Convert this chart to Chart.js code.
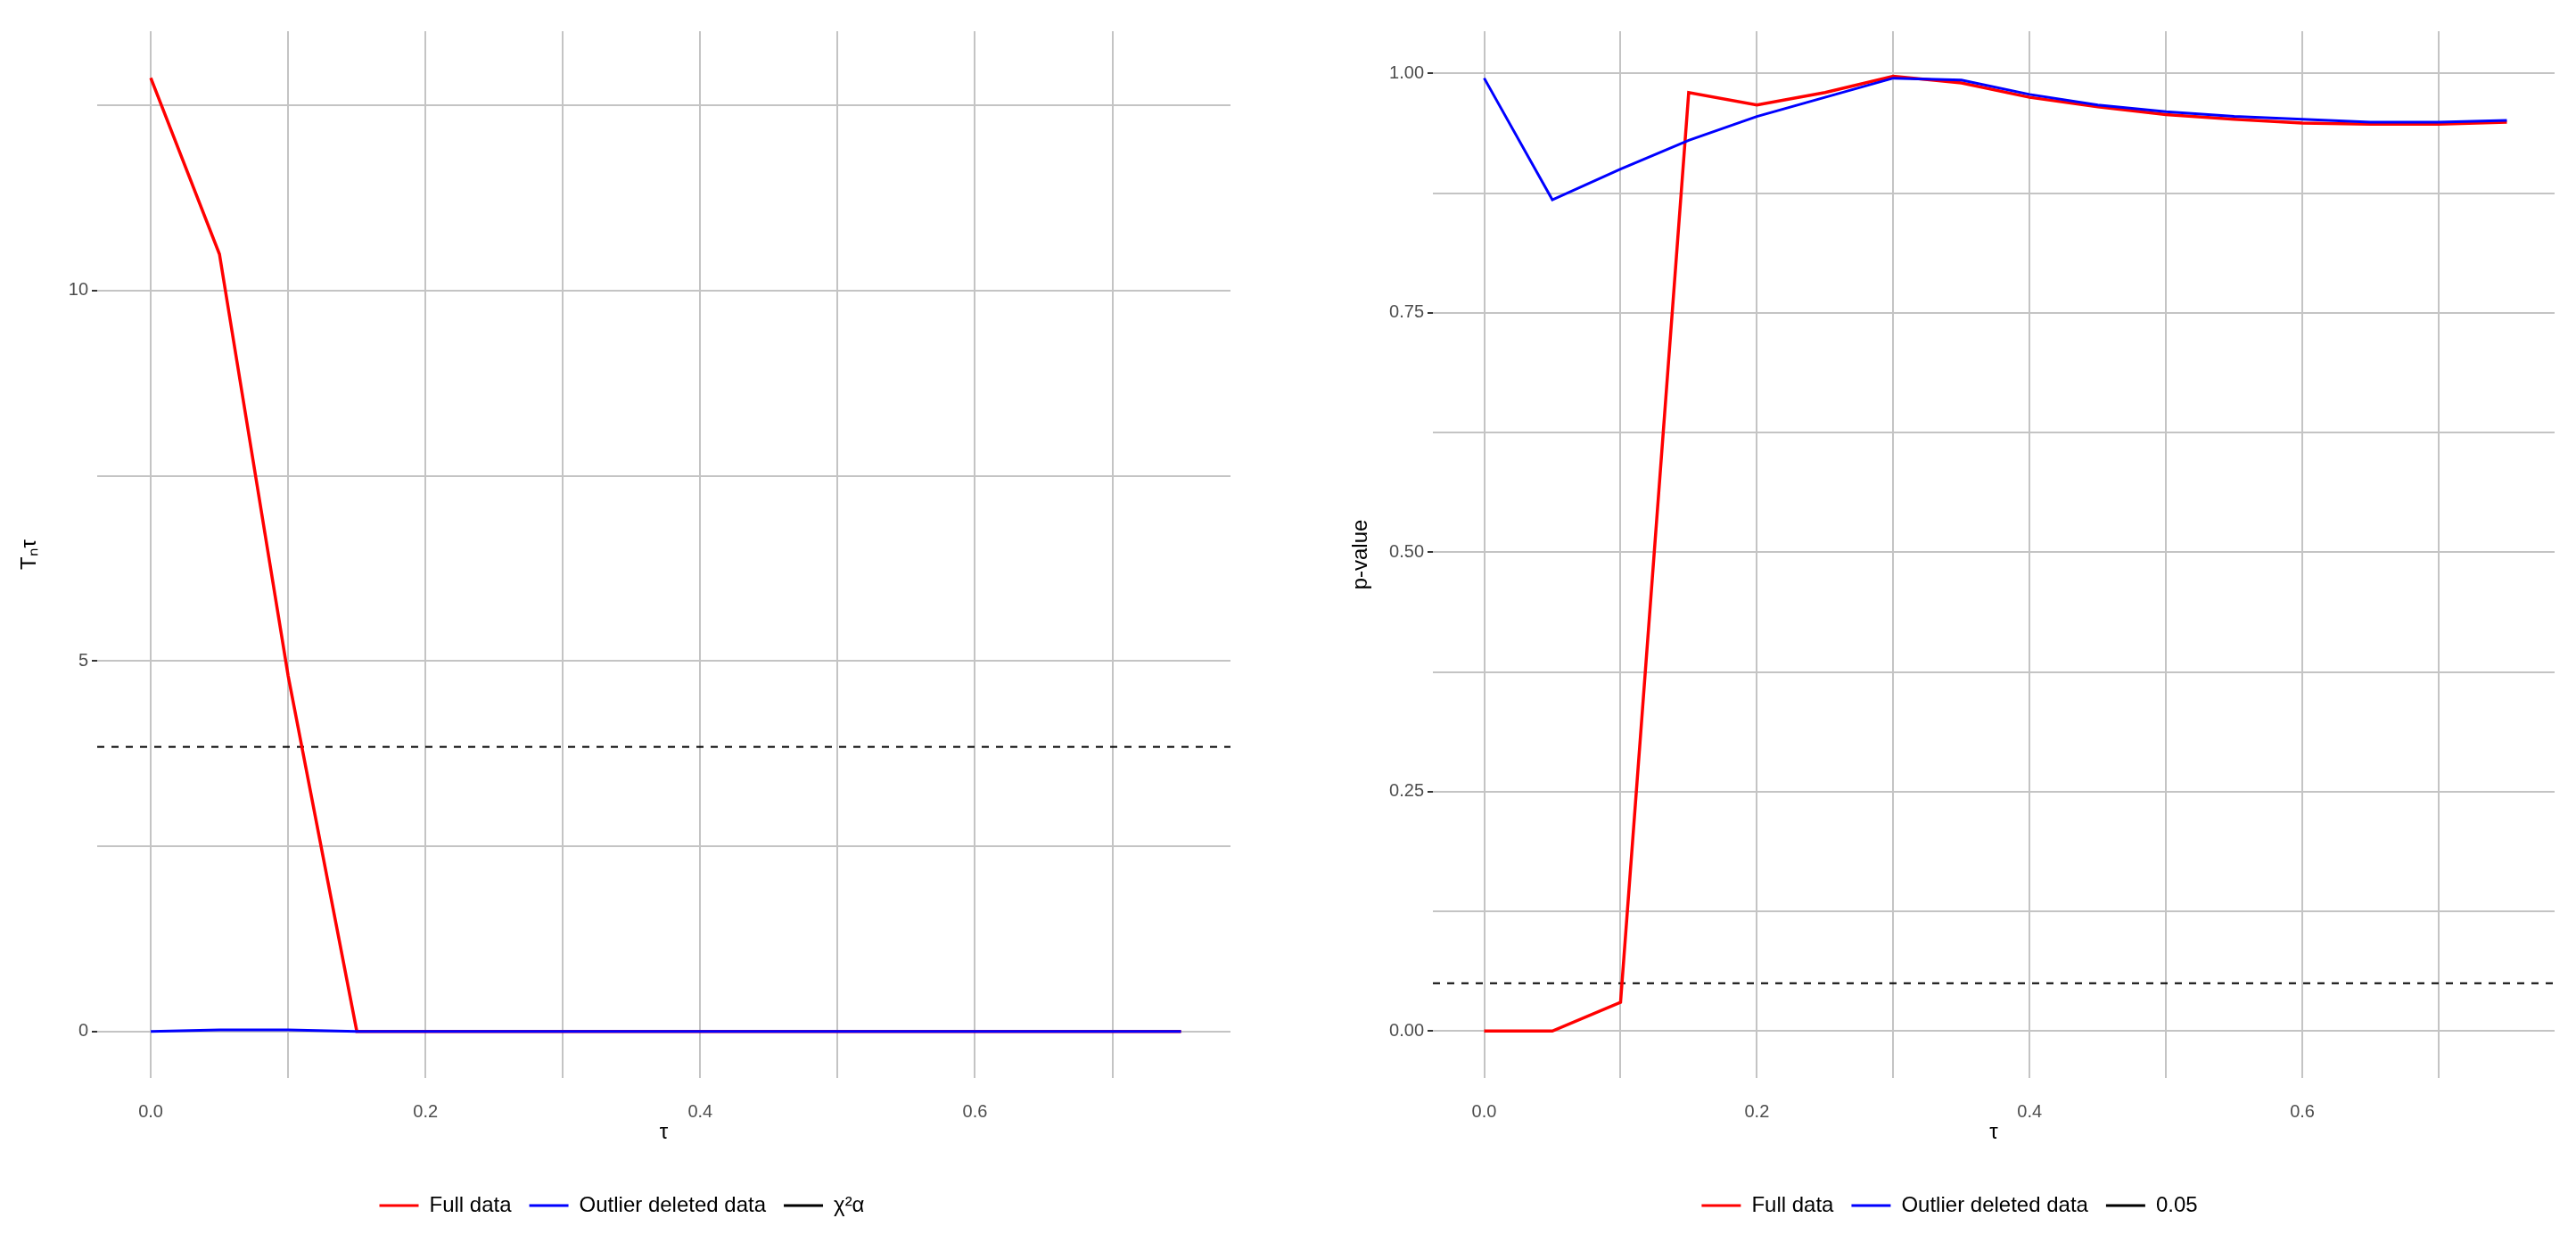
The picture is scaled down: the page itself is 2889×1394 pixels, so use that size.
<!DOCTYPE html>
<html>
<head>
<meta charset="utf-8">
<script src="https://cdn.jsdelivr.net/npm/chart.js@4/dist/chart.umd.min.js"></script>
<style>
  html, body { margin: 0; background: #fff; }
  .panel { position: absolute; top: 0; width: 1445px; height: 1394px; }
</style>
</head>
<body>
<div class="panel" style="left:0"><canvas id="left"></canvas></div>
<div class="panel" style="left:1445px"><canvas id="right"></canvas></div>
<script>
// data
const tau = [0, 0.05, 0.1, 0.15, 0.2, 0.25, 0.3, 0.35, 0.4, 0.45, 0.5, 0.55, 0.6, 0.65, 0.7, 0.75];
const statFull = [12.87, 10.49, 4.8, 0, 0, 0, 0, 0, 0, 0, 0, 0, 0, 0, 0, 0];
const statDeleted = [0, 0.02, 0.02, 0, 0, 0, 0, 0, 0, 0, 0, 0, 0, 0, 0, 0];
const chiCut = 3.84;
const pFull = [0, 0, 0.03, 0.98, 0.967, 0.98, 0.997, 0.99, 0.975, 0.965, 0.957, 0.952, 0.948, 0.947, 0.947, 0.949];
const pDeleted = [0.995, 0.868, 0.9, 0.93, 0.955, 0.975, 0.995, 0.993, 0.978, 0.967, 0.96, 0.955, 0.952, 0.949, 0.949, 0.951];
const pCut = 0.05;

const grid = '#c4c4c4';
const tickCol = '#4d4d4d';

function pts(ys) {
  return ys.map((y, i) => ({ x: tau[i], y: y }));
}

function makeChart(id, opts) {
  const ctx = document.getElementById(id);
  new Chart(ctx, {
    type: 'line',
    data: {
      datasets: [
        { label: 'Full data', data: pts(opts.full), borderColor: '#ff0000', borderWidth: 3.5, pointRadius: 0, tension: 0, order: 2 },
        { label: 'Outlier deleted data', data: pts(opts.deleted), borderColor: '#0000ff', borderWidth: 3, pointRadius: 0, tension: 0, order: 1 },
        { label: opts.cutLabel, data: [{ x: opts.xmin, y: opts.cut }, { x: opts.xmax, y: opts.cut }],
          borderColor: '#000', borderWidth: 2, borderDash: [8, 8], pointRadius: 0, order: 3 }
      ]
    },
    options: {
      responsive: true,
      maintainAspectRatio: false,
      animation: false,
      layout: { padding: { top: 35, right: opts.padRight, bottom: 20, left: opts.padLeft } },
      plugins: {
        tooltip: { enabled: false },
        legend: {
          position: 'bottom',
          labels: {
            font: { family: 'Liberation Sans', size: 24 },
            color: '#000',
            boxWidth: 44,
            boxHeight: 3,
            padding: 20,
            generateLabels: (chart) => chart.data.datasets.map((d, i) => ({
              text: d.label, fillStyle: d.borderColor, strokeStyle: d.borderColor,
              lineWidth: 0, datasetIndex: i
            }))
          }
        }
      },
      scales: {
        x: {
          type: 'linear', min: opts.xmin, max: opts.xmax,
          afterBuildTicks: (s) => { s.ticks = [0, 0.1, 0.2, 0.3, 0.4, 0.5, 0.6, 0.7].map(v => ({ value: v })); },
          afterFit: (s) => { s.height = 111; },
          grid: { color: grid, lineWidth: 2, drawTicks: false },
          border: { display: false },
          ticks: {
            color: tickCol, font: { family: 'Liberation Sans', size: 20 }, padding: 26, maxRotation: 0,
            callback: (v) => (Math.round(v * 10) % 2 === 0 ? v.toFixed(1) : '')
          },
          title: { display: true, text: 'τ', color: '#000', font: { family: 'Liberation Sans', size: 24 }, padding: { top: 0, bottom: 35 } }
        },
        y: {
          min: opts.ymin, max: opts.ymax,
          afterBuildTicks: (s) => { s.ticks = opts.yticks.map(v => ({ value: v })); },
          afterFit: (s) => { s.width = opts.yWidth; },
          grid: {
            color: grid, lineWidth: 2, tickLength: 6,
            tickColor: (c) => (opts.ylabel(c.tick.value) ? '#333' : 'rgba(0,0,0,0)')
          },
          border: { display: false },
          ticks: {
            color: tickCol, font: { family: 'Liberation Sans', size: 20 }, padding: 4,
            callback: opts.ylabel
          },
          title: { display: true, text: opts.ytitle, color: '#000', font: { family: 'Liberation Sans', size: 24 } }
        }
      }
    }
  });
}

makeChart('left', {
  full: statFull, deleted: statDeleted, cut: chiCut, cutLabel: 'χ²α',
  xmin: -0.039, xmax: 0.786, ymin: -0.63, ymax: 13.5,
  yticks: [0, 2.5, 5, 7.5, 10, 12.5],
  ylabel: (v) => (v % 5 === 0 ? String(v) : ''),
  ytitle: 'Tₙτ', yWidth: 94, padLeft: 15, padRight: 65
});

makeChart('right', {
  full: pFull, deleted: pDeleted, cut: pCut, cutLabel: '0.05',
  xmin: -0.0376, xmax: 0.785, ymin: -0.049, ymax: 1.044,
  yticks: [0, 0.125, 0.25, 0.375, 0.5, 0.625, 0.75, 0.875, 1],
  ylabel: (v) => ([0, 0.25, 0.5, 0.75, 1].includes(v) ? v.toFixed(2) : ''),
  ytitle: 'p-value', yWidth: 99, padLeft: 63, padRight: 25
});
</script>
</body>
</html>
